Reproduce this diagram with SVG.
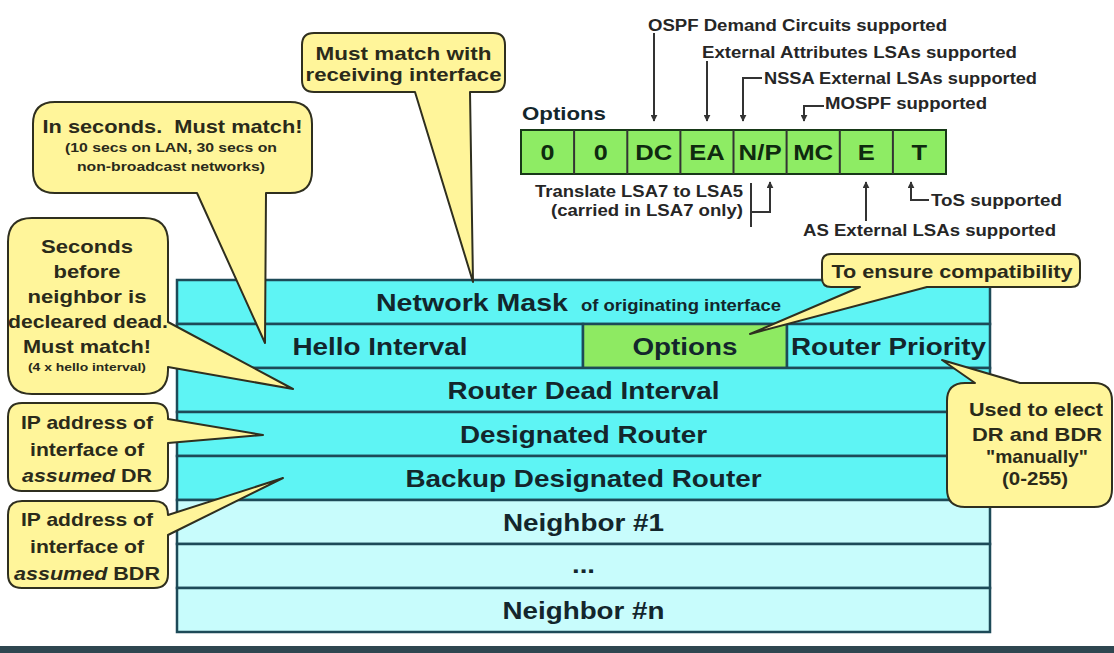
<svg xmlns="http://www.w3.org/2000/svg" width="1114" height="653" viewBox="0 0 1114 653">
  <defs>
    <style>
      .t { font-family: "Liberation Sans", Arial, sans-serif; font-weight: bold; fill: #13262c; }
      .tb { font-size: 24px; text-anchor: middle; }
      .lb { font-size: 16px; fill: #262626; }
      .bit { font-size: 22px; text-anchor: middle; fill: #0f2a0f; }
      .co { font-size: 19px; text-anchor: middle; fill: #2a2a1a; }
      .sm { font-size: 13px; text-anchor: middle; fill: #2a2a1a; }
      .xs { font-size: 11.5px; text-anchor: middle; fill: #2a2a1a; }
      .row { fill: #5ef4f4; stroke: #1d4a58; stroke-width: 2.5; }
      .row2 { fill: #c8fcfc; stroke: #1d4a58; stroke-width: 2.5; }
      .green { fill: #8eea62; stroke: #1d4a58; stroke-width: 2.5; }
      .bits { fill: #8eec64; stroke: #173817; stroke-width: 2; }
      .call { fill: #fff59a; stroke: #2f2f1f; stroke-width: 2; stroke-linejoin: round; }
      .wire { fill: none; stroke: #333; stroke-width: 2; }
    </style>
    <marker id="arr" viewBox="0 0 10 10" refX="9" refY="5" markerWidth="7" markerHeight="7" markerUnits="userSpaceOnUse" orient="auto">
      <path d="M0,0 L10,5 L0,10 Z" fill="#333"/>
    </marker>
  </defs>

  <rect width="1114" height="653" fill="#ffffff"/>

  <!-- Hello packet fields -->
  <g id="packet">
    <g id="row-netmask">
      <rect class="row" x="177" y="280" width="813" height="44"/>
      <text class="t" x="376" y="310.5" font-size="24" textLength="192" lengthAdjust="spacingAndGlyphs">Network Mask</text>
      <text class="t" x="581" y="310.5" font-size="16" textLength="200" lengthAdjust="spacingAndGlyphs">of originating interface</text>
    </g>
    <g id="row-hello">
      <rect class="row" x="177" y="324" width="406" height="44"/>
      <rect class="green" x="583" y="324" width="204" height="44"/>
      <rect class="row" x="787" y="324" width="203" height="44"/>
      <text class="t tb" x="380" y="354.5" textLength="175" lengthAdjust="spacingAndGlyphs">Hello Interval</text>
      <text class="t tb" x="685" y="354.5" textLength="105" lengthAdjust="spacingAndGlyphs">Options</text>
      <text class="t tb" x="888.5" y="354.5" textLength="195" lengthAdjust="spacingAndGlyphs">Router Priority</text>
    </g>
    <g id="row-dead">
      <rect class="row" x="177" y="368" width="813" height="44"/>
      <text class="t tb" x="583.5" y="398.5" textLength="272" lengthAdjust="spacingAndGlyphs">Router Dead Interval</text>
    </g>
    <g id="row-dr">
      <rect class="row" x="177" y="412" width="813" height="44"/>
      <text class="t tb" x="583.5" y="442.5" textLength="247" lengthAdjust="spacingAndGlyphs">Designated Router</text>
    </g>
    <g id="row-bdr">
      <rect class="row" x="177" y="456" width="813" height="44"/>
      <text class="t tb" x="583.5" y="486.5" textLength="356" lengthAdjust="spacingAndGlyphs">Backup Designated Router</text>
    </g>
    <g id="row-n1">
      <rect class="row2" x="177" y="500" width="813" height="44"/>
      <text class="t tb" x="583.5" y="530.5" textLength="161" lengthAdjust="spacingAndGlyphs">Neighbor #1</text>
    </g>
    <g id="row-dots">
      <rect class="row2" x="177" y="544" width="813" height="44"/>
      <text class="t tb" x="583.5" y="572.5" textLength="23" lengthAdjust="spacingAndGlyphs">...</text>
    </g>
    <g id="row-nn">
      <rect class="row2" x="177" y="588" width="813" height="44"/>
      <text class="t tb" x="583.5" y="618.5" textLength="162" lengthAdjust="spacingAndGlyphs">Neighbor #n</text>
    </g>
  </g>

  <!-- Options byte -->
  <g id="options-byte">
    <text class="t" x="522" y="120" font-size="19" textLength="84" lengthAdjust="spacingAndGlyphs">Options</text>
    <rect class="bits" x="521" y="130" width="425" height="44"/>
    <path class="wire" d="M574.1,130 V174 M627.3,130 V174 M680.4,130 V174 M733.5,130 V174 M786.6,130 V174 M839.8,130 V174 M892.9,130 V174" stroke="#173817"/>
    <text class="t bit" x="547.6" y="159.5" textLength="14" lengthAdjust="spacingAndGlyphs">0</text>
    <text class="t bit" x="600.7" y="159.5" textLength="14" lengthAdjust="spacingAndGlyphs">0</text>
    <text class="t bit" x="653.8" y="159.5" textLength="37" lengthAdjust="spacingAndGlyphs">DC</text>
    <text class="t bit" x="706.9" y="159.5" textLength="35.5" lengthAdjust="spacingAndGlyphs">EA</text>
    <text class="t bit" x="760.1" y="159.5" textLength="43" lengthAdjust="spacingAndGlyphs">N/P</text>
    <text class="t bit" x="813.2" y="159.5" textLength="40" lengthAdjust="spacingAndGlyphs">MC</text>
    <text class="t bit" x="866.3" y="159.5" textLength="17" lengthAdjust="spacingAndGlyphs">E</text>
    <text class="t bit" x="919.4" y="159.5" textLength="15.6" lengthAdjust="spacingAndGlyphs">T</text>
  </g>

  <!-- Option bit labels -->
  <g id="bit-labels">
    <text class="t lb" x="648" y="31" textLength="299" lengthAdjust="spacingAndGlyphs">OSPF Demand Circuits supported</text>
    <text class="t lb" x="702" y="58" textLength="315" lengthAdjust="spacingAndGlyphs">External Attributes LSAs supported</text>
    <text class="t lb" x="764" y="84" textLength="273" lengthAdjust="spacingAndGlyphs">NSSA External LSAs supported</text>
    <text class="t lb" x="825" y="109" textLength="162" lengthAdjust="spacingAndGlyphs">MOSPF supported</text>
    <text class="t lb" x="743" y="197" text-anchor="end" textLength="208" lengthAdjust="spacingAndGlyphs">Translate LSA7 to LSA5</text>
    <text class="t lb" x="743" y="216" text-anchor="end" textLength="192" lengthAdjust="spacingAndGlyphs">(carried in LSA7 only)</text>
    <text class="t lb" x="931" y="206" textLength="131" lengthAdjust="spacingAndGlyphs">ToS supported</text>
    <text class="t lb" x="803" y="236" textLength="253" lengthAdjust="spacingAndGlyphs">AS External LSAs supported</text>
  </g>

  <!-- Pointer lines to the option bits -->
  <g id="connectors">
    <path class="wire" d="M654,33 V121" marker-end="url(#arr)"/>
    <path class="wire" d="M707,61 V121" marker-end="url(#arr)"/>
    <path class="wire" d="M762,78 H743 V121" marker-end="url(#arr)"/>
    <path class="wire" d="M824,106 H804 V121" marker-end="url(#arr)"/>
    <path class="wire" d="M751,183 V227 M751,212 H770 V182" marker-end="url(#arr)"/>
    <path class="wire" d="M866,221 V182" marker-end="url(#arr)"/>
    <path class="wire" d="M929,200 H911 V182" marker-end="url(#arr)"/>
  </g>

  <!-- Callouts -->
  <g id="callout-netmask">
    <path class="call" d="M314,33 H493 Q505,33 505,45 V80 Q505,92 493,92 H470 L473,282 L415,92 H314 Q302,92 302,80 V45 Q302,33 314,33 Z"/>
    <text class="t co" x="403.5" y="60" textLength="176" lengthAdjust="spacingAndGlyphs">Must match with</text>
    <text class="t co" x="403.5" y="81" textLength="196" lengthAdjust="spacingAndGlyphs">receiving interface</text>
  </g>
  <g id="callout-hello">
    <path class="call" d="M55,102 H290 Q312,102 312,124 V171 Q312,193 290,193 H266 L265,343 L197,193 H55 Q33,193 33,171 V124 Q33,102 55,102 Z"/>
    <text class="t co" x="172.5" y="133" textLength="260" lengthAdjust="spacingAndGlyphs">In seconds.&#160; Must match!</text>
    <text class="t sm" x="171" y="152" textLength="212" lengthAdjust="spacingAndGlyphs">(10 secs on LAN, 30 secs on</text>
    <text class="t sm" x="171" y="171" textLength="188" lengthAdjust="spacingAndGlyphs">non-broadcast networks)</text>
  </g>
  <g id="callout-dead">
    <path class="call" d="M32,218 H144 Q168,218 168,242 V322 L293,389 L168,367 V370 Q168,394 144,394 H32 Q8,394 8,370 V242 Q8,218 32,218 Z"/>
    <text class="t co" x="87" y="253" textLength="92" lengthAdjust="spacingAndGlyphs">Seconds</text>
    <text class="t co" x="87" y="278" textLength="67" lengthAdjust="spacingAndGlyphs">before</text>
    <text class="t co" x="87" y="303" textLength="119" lengthAdjust="spacingAndGlyphs">neighbor is</text>
    <text class="t co" x="88" y="328" textLength="160" lengthAdjust="spacingAndGlyphs">decleared dead.</text>
    <text class="t co" x="87" y="353" textLength="128" lengthAdjust="spacingAndGlyphs">Must match!</text>
    <text class="t xs" x="87" y="371" textLength="118" lengthAdjust="spacingAndGlyphs">(4 x hello interval)</text>
  </g>
  <g id="callout-dr">
    <path class="call" d="M22,403 H154 Q168,403 168,417 V419 L263,435 L168,443 V477 Q168,491 154,491 H22 Q8,491 8,477 V417 Q8,403 22,403 Z"/>
    <text class="t co" x="87" y="429" textLength="132" lengthAdjust="spacingAndGlyphs">IP address of</text>
    <text class="t co" x="87" y="456" textLength="114" lengthAdjust="spacingAndGlyphs">interface of</text>
    <text class="t co" x="87" y="482" textLength="130" lengthAdjust="spacingAndGlyphs"><tspan font-style="italic">assumed</tspan> DR</text>
  </g>
  <g id="callout-bdr">
    <path class="call" d="M22,501 H154 Q168,501 168,515 L283,478 L168,535 V574 Q168,588 154,588 H22 Q8,588 8,574 V515 Q8,501 22,501 Z"/>
    <text class="t co" x="87" y="526" textLength="132" lengthAdjust="spacingAndGlyphs">IP address of</text>
    <text class="t co" x="87" y="553" textLength="114" lengthAdjust="spacingAndGlyphs">interface of</text>
    <text class="t co" x="87" y="580" textLength="146" lengthAdjust="spacingAndGlyphs"><tspan font-style="italic">assumed</tspan> BDR</text>
  </g>
  <g id="callout-options">
    <path class="call" d="M831,254 H1071 Q1080,254 1080,263 V278 Q1080,287 1071,287 H927 L750,334 L860,287 H831 Q822,287 822,278 V263 Q822,254 831,254 Z"/>
    <text class="t co" x="952" y="278" font-size="18.5" textLength="241" lengthAdjust="spacingAndGlyphs">To ensure compatibility</text>
  </g>
  <g id="callout-priority">
    <path class="call" d="M965,383 H975 L942,360 L1020,383 H1094 Q1112,383 1112,401 V489 Q1112,507 1094,507 H965 Q947,507 947,489 V401 Q947,383 965,383 Z"/>
    <text class="t co" x="1036" y="416" textLength="134" lengthAdjust="spacingAndGlyphs">Used to elect</text>
    <text class="t co" x="1037" y="441" textLength="130" lengthAdjust="spacingAndGlyphs">DR and BDR</text>
    <text class="t co" x="1037" y="463" textLength="102" lengthAdjust="spacingAndGlyphs">"manually"</text>
    <text class="t co" x="1035" y="485" textLength="66" lengthAdjust="spacingAndGlyphs">(0-255)</text>
  </g>

  <!-- Footer band -->
  <rect x="0" y="646" width="1114" height="7" fill="#2e4650"/>
</svg>
